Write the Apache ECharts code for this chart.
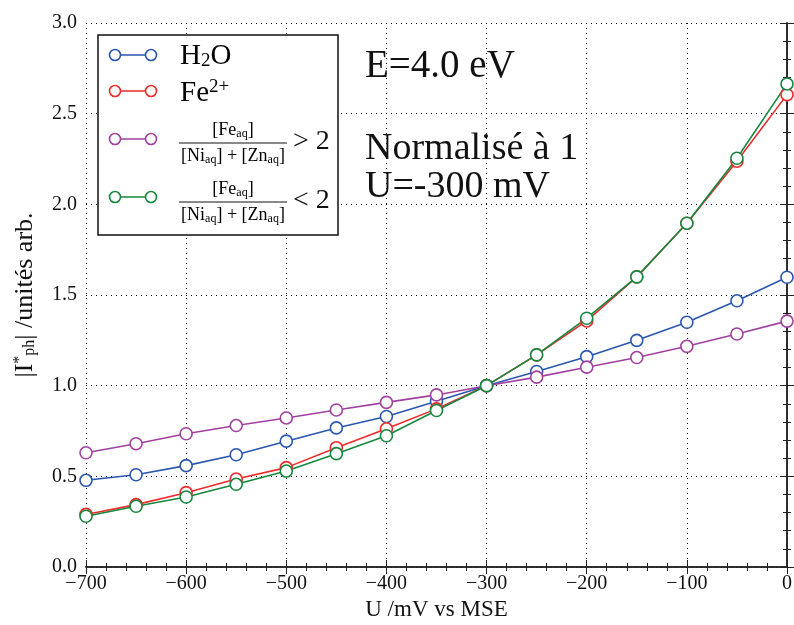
<!DOCTYPE html>
<html><head><meta charset="utf-8">
<script src="https://cdn.jsdelivr.net/npm/echarts@6/dist/echarts.min.js"></script>
<style>html,body{margin:0;padding:0;background:#fff}#c{width:794px;height:625px}</style>
</head><body><div id="c"></div>
<script>
// ---- data ----
const potentials = [-700,-650,-600,-550,-500,-450,-400,-350,-300,-250,-200,-150,-100,-50,0];
const h2o       = [0.478,0.509,0.559,0.619,0.694,0.767,0.830,0.914,1.0,1.078,1.160,1.250,1.350,1.468,1.598];
const fe2       = [0.290,0.344,0.410,0.485,0.548,0.658,0.762,0.872,1.0,1.170,1.357,1.600,1.896,2.238,2.605];
const ratioHigh = [0.630,0.680,0.735,0.780,0.822,0.866,0.908,0.949,1.0,1.047,1.102,1.155,1.217,1.285,1.356];
const ratioLow  = [0.280,0.335,0.386,0.456,0.529,0.625,0.724,0.863,1.0,1.170,1.372,1.600,1.896,2.254,2.664];
const xTicks = [-700,-600,-500,-400,-300,-200,-100,0];
const yTicks = [0.0,0.5,1.0,1.5,2.0,2.5,3.0];

const FONT = '"Liberation Serif", "DejaVu Serif", serif';
const colors = {h2o:'#2a57b0', fe2:'#ee2a2a', high:'#a2409f', low:'#16883e'};

function pair(xs, ys){ return xs.map((x,i)=>[x, ys[i]]); }
function mkSeries(name, ys, color){
  return {
    name, type:'line', data: pair(potentials, ys),
    symbol:'circle', symbolSize:12, showSymbol:true,
    lineStyle:{color, width:1.6},
    itemStyle:{color:'#fff', borderColor:color, borderWidth:1.6},
    emphasis:{disabled:true}, animation:false, clip:true
  };
}
const tickCommon = {
  axisLine:{show:true, lineStyle:{color:'#222', width:1.5}},
  axisTick:{show:true, inside:true, length:7, lineStyle:{color:'#222', width:1}},
  minorTick:{show:true, splitNumber:5, length:4, lineStyle:{color:'#222', width:1}},
};
const xFmt = v => v < 0 ? '\u2212' + Math.abs(v) : String(v);
const labelStyle = {fontFamily: FONT, fontSize:20, color:'#111'};

const option = {
  backgroundColor:'#fff',
  animation:false,
  grid:{left:86, right:7, top:23, bottom:58, containLabel:false, outerBoundsMode:'none'},
  xAxis:[
    Object.assign({type:'value', min:xTicks[0], max:xTicks[xTicks.length-1], interval:100, position:'bottom',
      axisLabel:Object.assign({formatter:xFmt, margin:7}, labelStyle),
      splitLine:{show:true, lineStyle:{color:'#000', width:1, type:[1,4]}},
      name:'U /mV vs MSE', nameLocation:'middle', nameGap:29,
      nameTextStyle:{fontFamily:FONT, fontSize:23, color:'#111'}}, tickCommon),
    Object.assign({type:'value', min:xTicks[0], max:xTicks[xTicks.length-1], interval:100, position:'top',
      axisLabel:{show:false}, splitLine:{show:false}}, tickCommon)
  ],
  yAxis:[
    Object.assign({type:'value', min:yTicks[0], max:yTicks[yTicks.length-1], interval:0.5, position:'left',
      axisLabel:Object.assign({formatter:v=>v.toFixed(1), margin:9}, labelStyle),
      splitLine:{show:true, lineStyle:{color:'#000', width:1, type:[1,4]}},
      name:'|I{sup|*}{sub|ph}| /unités arb.', nameLocation:'middle', nameGap:48,
      nameTextStyle:{fontFamily:FONT, fontSize:26, color:'#111',
        rich:{
          sup:{fontFamily:FONT, fontSize:16, color:'#111', verticalAlign:'top', lineHeight:12},
          sub:{fontFamily:FONT, fontSize:16, color:'#111', verticalAlign:'bottom', lineHeight:14}
        }}}, tickCommon),
    Object.assign({type:'value', min:yTicks[0], max:yTicks[yTicks.length-1], interval:0.5, position:'right',
      axisLabel:{show:false}, splitLine:{show:false}}, tickCommon)
  ],
  series:[
    mkSeries('H2O', h2o, colors.h2o),
    mkSeries('Fe2+', fe2, colors.fe2),
    mkSeries('ratio>2', ratioHigh, colors.high),
    mkSeries('ratio<2', ratioLow, colors.low)
  ]
};

// legend built as graphic group
const subRich = {
  m:{fontFamily:FONT, fontSize:18, color:'#111', lineHeight:20, verticalAlign:'middle'},
  s:{fontFamily:FONT, fontSize:12, color:'#111', lineHeight:12, verticalAlign:'bottom'},
  big:{fontFamily:FONT, fontSize:29, color:'#111', lineHeight:30, verticalAlign:'middle'},
  bs:{fontFamily:FONT, fontSize:19, color:'#111', lineHeight:16, verticalAlign:'bottom'},
  bp:{fontFamily:FONT, fontSize:19, color:'#111', lineHeight:16, verticalAlign:'top'}
};
function legendIcon(y, color){
  return [
    {type:'line', shape:{x1:115,y1:y,x2:151,y2:y}, style:{stroke:color, lineWidth:1.6}, z:101},
    {type:'circle', shape:{cx:115, cy:y, r:5.5}, style:{fill:'#fff', stroke:color, lineWidth:1.6}, z:102},
    {type:'circle', shape:{cx:151, cy:y, r:5.5}, style:{fill:'#fff', stroke:color, lineWidth:1.6}, z:102}
  ];
}
function fraction(yBar, rel){
  return [
    {type:'text', x:233, y:yBar-3, z:103, style:{text:'{m|[Fe}{s|aq}{m|]}', rich:subRich, align:'center', verticalAlign:'bottom'}},
    {type:'line', shape:{x1:179,y1:yBar,x2:287,y2:yBar}, style:{stroke:'#111', lineWidth:1}, z:103},
    {type:'text', x:233, y:yBar+3, z:103, style:{text:'{m|[Ni}{s|aq}{m|] + [Zn}{s|aq}{m|]}', rich:subRich, align:'center', verticalAlign:'top'}},
    {type:'text', x:293, y:yBar-1, z:103, style:{text:rel, fontFamily:FONT, fontSize:28, fill:'#111', align:'left', verticalAlign:'middle'}}
  ];
}
const legendEls = [
  {type:'rect', shape:{x:98, y:35, width:240, height:200}, style:{fill:'#fff', stroke:'#111', lineWidth:1.5}, z:100},
  ...legendIcon(55, colors.h2o),
  {type:'text', x:180, y:56, z:103, style:{text:'{big|H}{bs|2}{big|O}', rich:subRich, verticalAlign:'middle'}},
  ...legendIcon(91, colors.fe2),
  {type:'text', x:180, y:93, z:103, style:{text:'{big|Fe}{bp|2+}', rich:subRich, verticalAlign:'middle'}},
  ...legendIcon(139, colors.high),
  ...fraction(143, '> 2'),
  ...legendIcon(197, colors.low),
  ...fraction(202, '< 2'),
];
const annot = [
  {type:'text', x:365, y:67, z:103, style:{text:'E=4.0 eV', fontFamily:FONT, fontSize:39, fill:'#111', verticalAlign:'middle'}},
  {type:'text', x:365, y:149, z:103, style:{text:'Normalisé à 1', fontFamily:FONT, fontSize:38, fill:'#111', verticalAlign:'middle'}},
  {type:'text', x:365, y:187, z:103, style:{text:'U=-300 mV', fontFamily:FONT, fontSize:38, fill:'#111', verticalAlign:'middle'}}
];
option.graphic = [...legendEls, ...annot];

const chart = echarts.init(document.getElementById('c'), null, {renderer:'canvas'});
chart.setOption(option);
</script>
</body></html>
